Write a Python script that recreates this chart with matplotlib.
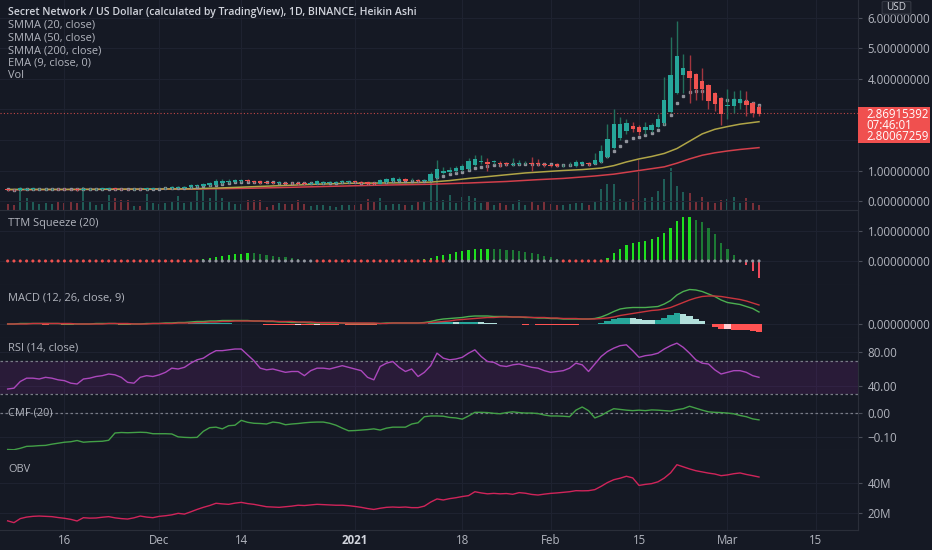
import numpy as np
import matplotlib
matplotlib.use('Agg')
import matplotlib.pyplot as plt
from matplotlib.patches import Rectangle, FancyBboxPatch

# %% data (day index counted from 2020-11-01)
days = np.arange(6, 126)

ha_open = [
    0.38, 0.37, 0.35, 0.37, 0.38, 0.38, 0.39, 0.39, 0.40, 0.40,
    0.39, 0.40, 0.37, 0.38, 0.39, 0.39, 0.40, 0.41, 0.40, 0.39,
    0.38, 0.40, 0.39, 0.40, 0.41, 0.41, 0.42, 0.43, 0.44, 0.45,
    0.48, 0.50, 0.52, 0.54, 0.58, 0.61, 0.63, 0.66, 0.68, 0.66,
    0.64, 0.62, 0.61, 0.59, 0.60, 0.59, 0.59, 0.60, 0.57, 0.57,
    0.59, 0.60, 0.60, 0.61, 0.62, 0.64, 0.63, 0.61, 0.59, 0.57,
    0.62, 0.65, 0.67, 0.71, 0.68, 0.70, 0.67, 0.67, 0.76, 0.93,
    0.96, 0.99, 1.01, 1.06, 1.18, 1.28, 1.28, 1.27, 1.26, 1.24,
    1.19, 1.22, 1.23, 1.24, 1.24, 1.22, 1.19, 1.20, 1.17, 1.17,
    1.15, 1.22, 1.25, 1.22, 1.28, 1.44, 1.74, 2.07, 2.30, 2.46,
    2.43, 2.33, 2.33, 2.43, 2.56, 2.92, 3.54, 4.13, 4.26, 4.16,
    3.93, 3.80, 3.54, 3.38, 3.12, 3.13, 3.21, 3.28, 3.21, 3.08,
]
ha_close = [
    0.36, 0.35, 0.42, 0.40, 0.41, 0.40, 0.40, 0.40, 0.39, 0.38,
    0.38, 0.35, 0.40, 0.40, 0.40, 0.41, 0.41, 0.39, 0.38, 0.38,
    0.40, 0.39, 0.41, 0.42, 0.42, 0.43, 0.45, 0.46, 0.47, 0.52,
    0.53, 0.55, 0.58, 0.65, 0.66, 0.67, 0.68, 0.68, 0.64, 0.62,
    0.60, 0.60, 0.59, 0.61, 0.57, 0.58, 0.56, 0.55, 0.59, 0.64,
    0.62, 0.61, 0.62, 0.66, 0.64, 0.61, 0.59, 0.56, 0.55, 0.68,
    0.72, 0.74, 0.71, 0.67, 0.70, 0.66, 0.69, 0.88, 1.05, 0.98,
    1.01, 1.07, 1.15, 1.30, 1.38, 1.31, 1.20, 1.30, 1.20, 1.21,
    1.22, 1.26, 1.25, 1.21, 1.21, 1.17, 1.15, 1.16, 1.19, 1.19,
    1.28, 1.27, 1.20, 1.34, 1.64, 2.03, 2.52, 2.52, 2.56, 2.37,
    2.26, 2.43, 2.50, 2.69, 3.31, 4.13, 4.75, 4.36, 4.03, 3.67,
    3.67, 3.28, 3.18, 2.85, 3.14, 3.34, 3.34, 3.15, 2.89, 2.85,
]
ha_high = [
    0.40, 0.39, 0.45, 0.42, 0.43, 0.42, 0.42, 0.42, 0.41, 0.41,
    0.40, 0.41, 0.42, 0.42, 0.42, 0.43, 0.43, 0.42, 0.41, 0.40,
    0.42, 0.42, 0.43, 0.44, 0.44, 0.45, 0.48, 0.48, 0.50, 0.55,
    0.56, 0.58, 0.62, 0.72, 0.71, 0.71, 0.72, 0.72, 0.71, 0.67,
    0.66, 0.63, 0.63, 0.65, 0.63, 0.62, 0.61, 0.62, 0.62, 0.68,
    0.65, 0.64, 0.65, 0.70, 0.67, 0.66, 0.65, 0.63, 0.61, 0.71,
    0.76, 0.80, 0.78, 0.74, 0.74, 0.72, 0.72, 0.95, 1.34, 1.12,
    1.10, 1.15, 1.22, 1.40, 1.52, 1.50, 1.40, 1.35, 1.30, 1.28,
    1.40, 1.35, 1.30, 1.45, 1.38, 1.25, 1.22, 1.24, 1.22, 1.28,
    1.34, 1.30, 1.28, 1.58, 1.85, 2.52, 3.00, 2.75, 2.70, 2.60,
    2.50, 2.60, 2.55, 2.85, 4.07, 5.38, 5.90, 4.82, 4.79, 4.20,
    4.36, 3.85, 3.56, 3.40, 3.67, 3.60, 3.65, 3.62, 3.25, 3.15,
]
ha_low = [
    0.33, 0.32, 0.33, 0.35, 0.36, 0.36, 0.37, 0.37, 0.37, 0.36,
    0.36, 0.33, 0.35, 0.36, 0.37, 0.37, 0.38, 0.37, 0.36, 0.36,
    0.36, 0.37, 0.37, 0.38, 0.39, 0.39, 0.40, 0.41, 0.42, 0.43,
    0.46, 0.48, 0.50, 0.52, 0.56, 0.59, 0.61, 0.63, 0.61, 0.59,
    0.57, 0.58, 0.56, 0.57, 0.55, 0.55, 0.53, 0.52, 0.55, 0.55,
    0.57, 0.58, 0.58, 0.59, 0.60, 0.58, 0.56, 0.53, 0.52, 0.55,
    0.60, 0.63, 0.65, 0.64, 0.66, 0.63, 0.65, 0.65, 0.74, 0.88,
    0.92, 0.95, 0.98, 1.03, 1.15, 1.20, 1.00, 1.22, 1.12, 1.15,
    1.15, 1.18, 1.20, 1.00, 1.15, 1.12, 1.10, 1.12, 1.13, 1.14,
    1.13, 1.20, 1.15, 1.20, 1.25, 1.40, 1.70, 2.00, 2.20, 2.25,
    2.15, 2.20, 2.25, 2.40, 2.50, 2.90, 3.50, 3.54, 3.20, 3.30,
    3.30, 3.00, 2.95, 2.49, 2.69, 2.90, 3.00, 2.79, 2.75, 2.80,
]
ema9 = [
    0.38, 0.37, 0.38, 0.38, 0.39, 0.39, 0.39, 0.39, 0.39, 0.39,
    0.39, 0.38, 0.38, 0.39, 0.39, 0.39, 0.40, 0.40, 0.39, 0.39,
    0.39, 0.39, 0.39, 0.40, 0.40, 0.41, 0.42, 0.43, 0.44, 0.45,
    0.47, 0.49, 0.51, 0.54, 0.57, 0.59, 0.61, 0.63, 0.63, 0.63,
    0.62, 0.62, 0.61, 0.60, 0.60, 0.59, 0.58, 0.58, 0.58, 0.59,
    0.59, 0.60, 0.60, 0.61, 0.61, 0.61, 0.60, 0.60, 0.59, 0.61,
    0.62, 0.64, 0.65, 0.65, 0.66, 0.66, 0.66, 0.70, 0.78, 0.83,
    0.87, 0.91, 0.96, 1.02, 1.09, 1.13, 1.15, 1.18, 1.19, 1.20,
    1.20, 1.21, 1.22, 1.22, 1.22, 1.21, 1.20, 1.19, 1.18, 1.18,
    1.20, 1.21, 1.21, 1.23, 1.32, 1.46, 1.64, 1.80, 1.98, 2.07,
    2.10, 2.16, 2.23, 2.33, 2.52, 2.82, 3.21, 3.44, 3.57, 3.60,
    3.62, 3.55, 3.45, 3.35, 3.31, 3.30, 3.29, 3.28, 3.22, 3.15,
]
smma20_days = [6, 15, 25, 35, 40, 45, 50, 55, 60, 65, 70, 73, 76, 79, 82, 85, 88,
               91, 94, 97, 100, 102, 104, 106, 108, 110, 112, 114, 116, 118, 120, 122, 125]
smma20 = [0.38, 0.38, 0.39, 0.40, 0.43, 0.47, 0.51, 0.55, 0.58, 0.59, 0.60, 0.62, 0.67,
          0.74, 0.80, 0.86, 0.92, 0.96, 1.00, 1.03, 1.08, 1.16, 1.28, 1.38, 1.46, 1.56,
          1.72, 1.96, 2.20, 2.35, 2.44, 2.52, 2.60]
smma50_days = [6, 20, 35, 45, 55, 65, 73, 79, 85, 90, 94, 99, 102, 104, 106, 108, 110,
               112, 114, 116, 118, 120, 122, 125]
smma50 = [0.37, 0.38, 0.39, 0.42, 0.47, 0.52, 0.55, 0.59, 0.64, 0.70, 0.74, 0.82, 0.88,
          0.94, 1.00, 1.06, 1.12, 1.24, 1.38, 1.50, 1.58, 1.64, 1.69, 1.75]
volume = [  # x100k
    6, 5, 22, 12, 8, 6, 7, 6, 8, 7,
    8, 7, 23, 8, 5, 6, 15, 12, 10, 10,
    4, 4, 16, 7, 6, 7, 8, 14, 7, 8,
    19, 20, 12, 21, 12, 9, 6, 6, 10, 10,
    10, 3, 5, 7, 6, 6, 10, 6, 4, 5,
    5, 4, 3, 5, 5, 5, 6, 11, 8, 12,
    5, 6, 6, 5, 5, 8, 9, 30, 40, 10,
    15, 7, 13, 14, 12, 7, 8, 5, 7, 5,
    6, 10, 5, 9, 5, 9, 6, 5, 5, 6,
    7, 7, 5, 9, 21, 26, 26, 11, 9, 11,
    50, 12, 13, 19, 31, 42, 24, 18, 17, 9,
    13, 9, 7, 10, 11, 13, 7, 12, 7, 5,
]
ttm = [
    0, 0, 0, 0, 0, 0, 0, 0, 0, 0,
    0, 0, 0, 0, 0, 0, 0, 0, 0, 0,
    0, 0, 0, 0, 0, 0, 0, 0, 0, 0,
    0.03, 0.06, 0.10, 0.13, 0.17, 0.20, 0.22, 0.25, 0.27, 0.26,
    0.22, 0.20, 0.17, 0.14, 0.12, 0.10, 0.07, 0.05, 0.03, 0,
    0, 0, 0, 0, 0, 0, 0, 0, 0, 0,
    0, 0, 0, 0, 0.03, 0.05, 0.07, 0.11, 0.16, 0.20,
    0.24, 0.30, 0.35, 0.38, 0.40, 0.41, 0.41, 0.40, 0.39, 0.38,
    0.36, 0.33, 0.30, 0.27, 0.22, 0.17, 0.12, 0.08, 0.04, 0,
    0, 0, 0, 0, 0, 0.11, 0.26, 0.39, 0.52, 0.59,
    0.62, 0.68, 0.72, 0.81, 0.92, 1.11, 1.34, 1.46, 1.47, 1.37,
    1.29, 1.10, 0.89, 0.60, 0.39, 0.20, 0.02, -0.13, -0.33, -0.56,
]
squeeze_on = [(6, 36), (55, 75), (94, 101)]
macd_line = [
    0.00, 0.00, 0.01, 0.01, 0.01, 0.01, 0.01, 0.01, 0.01, 0.00,
    0.00, 0.00, 0.00, 0.00, 0.01, 0.01, 0.01, 0.01, 0.00, 0.00,
    0.00, 0.00, 0.01, 0.01, 0.01, 0.02, 0.02, 0.03, 0.03, 0.04,
    0.05, 0.05, 0.06, 0.06, 0.07, 0.07, 0.07, 0.07, 0.07, 0.06,
    0.06, 0.05, 0.05, 0.04, 0.04, 0.03, 0.03, 0.03, 0.02, 0.02,
    0.02, 0.02, 0.02, 0.02, 0.01, 0.01, 0.01, 0.01, 0.01, 0.01,
    0.02, 0.02, 0.02, 0.02, 0.02, 0.02, 0.03, 0.05, 0.08, 0.10,
    0.11, 0.12, 0.13, 0.15, 0.16, 0.16, 0.16, 0.15, 0.15, 0.15,
    0.14, 0.14, 0.13, 0.13, 0.12, 0.12, 0.11, 0.11, 0.10, 0.10,
    0.10, 0.10, 0.10, 0.11, 0.14, 0.19, 0.25, 0.30, 0.32, 0.33,
    0.33, 0.33, 0.34, 0.35, 0.40, 0.47, 0.58, 0.65, 0.69, 0.68,
    0.65, 0.60, 0.55, 0.48, 0.43, 0.41, 0.39, 0.35, 0.31, 0.24,
]
signal_line = [
    0.00, 0.00, 0.00, 0.00, 0.01, 0.01, 0.01, 0.01, 0.01, 0.01,
    0.01, 0.00, 0.00, 0.00, 0.00, 0.00, 0.01, 0.01, 0.01, 0.01,
    0.00, 0.00, 0.00, 0.01, 0.01, 0.01, 0.01, 0.02, 0.02, 0.02,
    0.03, 0.03, 0.04, 0.04, 0.05, 0.05, 0.06, 0.06, 0.06, 0.06,
    0.06, 0.06, 0.06, 0.05, 0.05, 0.05, 0.04, 0.04, 0.04, 0.03,
    0.03, 0.03, 0.03, 0.02, 0.02, 0.02, 0.02, 0.02, 0.02, 0.01,
    0.01, 0.02, 0.02, 0.02, 0.02, 0.02, 0.02, 0.03, 0.04, 0.05,
    0.06, 0.08, 0.09, 0.10, 0.11, 0.12, 0.13, 0.13, 0.14, 0.14,
    0.14, 0.14, 0.14, 0.13, 0.13, 0.13, 0.12, 0.12, 0.11, 0.11,
    0.11, 0.10, 0.10, 0.10, 0.11, 0.12, 0.14, 0.17, 0.19, 0.21,
    0.23, 0.25, 0.27, 0.28, 0.30, 0.33, 0.38, 0.43, 0.48, 0.52,
    0.55, 0.56, 0.56, 0.55, 0.53, 0.51, 0.49, 0.46, 0.42, 0.38,
]
macd_hist = [
    0.00, 0.00, 0.01, 0.01, 0.00, 0.00, -0.01, 0.00, 0.00, -0.01,
    -0.01, 0.00, 0.00, 0.00, 0.01, 0.01, 0.00, 0.00, -0.01, -0.01,
    0.00, 0.00, 0.01, 0.00, 0.00, 0.01, 0.01, 0.01, 0.01, 0.02,
    0.02, 0.02, 0.02, 0.02, 0.02, 0.02, 0.01, 0.01, 0.01, 0.00,
    0.00, -0.01, -0.01, -0.01, -0.01, -0.02, -0.01, -0.01, -0.02, -0.01,
    -0.01, -0.01, -0.01, 0.00, -0.01, -0.01, -0.01, -0.01, -0.01, 0.00,
    0.01, 0.00, 0.00, 0.00, 0.00, 0.00, 0.01, 0.02, 0.04, 0.05,
    0.05, 0.04, 0.04, 0.05, 0.05, 0.04, 0.03, 0.02, 0.01, 0.01,
    0.00, 0.00, -0.01, 0.00, -0.01, -0.01, -0.01, -0.01, -0.01, -0.01,
    -0.01, 0.00, 0.00, 0.01, 0.03, 0.07, 0.11, 0.13, 0.13, 0.12,
    0.10, 0.09, 0.08, 0.09, 0.13, 0.18, 0.22, 0.21, 0.16, 0.11,
    0.06, 0.00, -0.06, -0.10, -0.09, -0.11, -0.11, -0.12, -0.14, -0.16,
]
rsi = [
    36, 37, 45, 49, 49, 48, 50, 49, 47, 46,
    43, 42, 48, 49, 51, 52, 54, 53, 50, 44,
    43, 50, 52, 51, 53, 56, 61, 60, 62, 67,
    71, 73, 78, 82, 82, 83, 84, 84, 77, 70,
    61, 59, 60, 58, 56, 57, 57, 52, 58, 61,
    61, 60, 62, 64, 62, 60, 58, 50, 47, 63,
    67, 69, 62, 57, 60, 51, 56, 64, 79, 73,
    71, 72, 74, 79, 83, 75, 69, 68, 64, 63,
    65, 66, 64, 62, 61, 58, 56, 57, 58, 61,
    67, 65, 57, 66, 75, 81, 85, 88, 89, 82,
    74, 76, 77, 79, 84, 88, 91, 86, 79, 71,
    67, 66, 59, 54, 56, 58, 58, 56, 52, 50,
]
cmf = [
    -0.150, -0.151, -0.145, -0.137, -0.136, -0.134, -0.133, -0.128, -0.124, -0.120,
    -0.118, -0.113, -0.120, -0.118, -0.117, -0.116, -0.112, -0.082, -0.080, -0.081,
    -0.080, -0.079, -0.080, -0.085, -0.085, -0.085, -0.086, -0.098, -0.100, -0.101,
    -0.100, -0.075, -0.060, -0.058, -0.065, -0.052, -0.050, -0.030, -0.038, -0.042,
    -0.043, -0.045, -0.037, -0.040, -0.048, -0.045, -0.043, -0.040, -0.038, -0.037,
    -0.037, -0.042, -0.050, -0.062, -0.073, -0.072, -0.070, -0.068, -0.065, -0.070,
    -0.062, -0.058, -0.058, -0.058, -0.045, -0.040, -0.015, -0.012, -0.012, -0.013,
    -0.018, -0.020, -0.025, -0.012, 0.003, 0.003, 0.002, -0.001, -0.003, 0.002,
    0.005, 0.002, 0.000, 0.000, -0.002, -0.008, -0.012, -0.012, -0.013, -0.015,
    0.012, 0.025, 0.010, -0.020, -0.010, 0.005, 0.018, 0.015, 0.012, 0.010,
    0.012, 0.010, 0.013, 0.012, 0.010, 0.008, 0.014, 0.018, 0.028, 0.020,
    0.012, 0.005, 0.003, 0.002, 0.000, -0.003, -0.010, -0.015, -0.024, -0.028,
]
obv = [  # millions
    15.0, 13.8, 16.5, 17.5, 18.0, 18.2, 18.0, 17.8, 17.2, 16.7,
    16.0, 14.9, 17.1, 16.8, 16.9, 17.4, 17.8, 17.0, 16.5, 16.2,
    17.0, 18.2, 17.5, 17.1, 18.0, 18.4, 19.0, 20.0, 19.5, 21.0,
    22.6, 24.0, 25.2, 26.7, 26.3, 26.0, 26.8, 27.3, 26.5, 26.0,
    25.2, 24.4, 24.2, 24.0, 24.4, 24.8, 25.4, 25.2, 25.6, 26.0,
    25.8, 25.6, 25.4, 25.4, 25.1, 24.6, 24.0, 23.2, 22.6, 23.4,
    24.0, 24.2, 24.0, 24.2, 23.8, 23.8, 24.8, 27.5, 29.6, 28.9,
    29.8, 30.4, 31.2, 31.8, 34.4, 33.6, 33.0, 33.3, 33.0, 33.2,
    32.7, 33.8, 33.4, 32.6, 32.2, 32.8, 33.3, 33.6, 34.0, 34.4,
    35.1, 35.0, 35.1, 35.8, 38.0, 40.5, 42.4, 43.4, 44.7, 43.6,
    38.6, 39.3, 39.8, 41.0, 43.5, 47.0, 52.4, 51.0, 49.6, 48.4,
    47.6, 46.8, 46.2, 45.1, 45.6, 46.4, 46.9, 45.9, 45.1, 44.2,
]
last_price = 2.86915392
price_ticks = [0, 1, 4, 5, 6]  # 2 and 3 sit under the price label
tick_days = [15, 30, 43, 61, 78, 92, 106, 120, 134]
tick_labels = ['16', 'Dec', '14', '2021', '18', 'Feb', '15', 'Mar', '15']

# %% style
BG = '#151924'
GRID = '#1e2230'
SEP = '#2a2e39'
TXT = '#b2b5be'
UP = '#26a69a'
DOWN = '#ef5350'
plt.rcParams['font.family'] = ['Open Sans', 'DejaVu Sans']

W, H = 932, 550
PLOT_W = 858
XMIN, XMAX = 4.79, 140.68

fig = plt.figure(figsize=(W / 100, H / 100), dpi=100, facecolor=BG)


def pane(top, bottom, ylim, yticks, ylabels):
    ax = fig.add_axes([0, 1 - bottom / H, PLOT_W / W, (bottom - top) / H])
    ax.set_facecolor(BG)
    ax.set_xlim(XMIN, XMAX)
    ax.set_ylim(*ylim)
    for s in ['top', 'left']:
        ax.spines[s].set_visible(False)
    ax.spines['bottom'].set_color(SEP)
    ax.spines['right'].set_color(SEP)
    ax.yaxis.tick_right()
    ax.set_yticks(yticks)
    ax.set_yticklabels(ylabels)
    ax.tick_params(axis='y', colors='#4a4e59', labelcolor=TXT, labelsize=8.3, length=3, pad=4)
    ax.set_xticks(tick_days)
    ax.tick_params(axis='x', length=0, labelbottom=False)
    ax.grid(True, color=GRID, lw=0.8)
    ax.set_axisbelow(True)
    return ax


def px_text(x, y, s, **kw):
    return fig.text(x / W, 1 - y / H, s, va='center', **kw)


o = np.array(ha_open)
c = np.array(ha_close)
up = c >= o

# main pane
ax = pane(0, 210, (-0.295, 6.59), price_ticks, [f'{v:.8f}' for v in price_ticks])
for lvl in (2, 3):
    ax.axhline(lvl, color=GRID, lw=0.8, zorder=0)
ax_vol = fig.add_axes(ax.get_position(), label='vol')
ax_vol.set_xlim(XMIN, XMAX)
ax_vol.set_ylim(0, 210)
ax_vol.axis('off')
ax_vol.bar(days, volume, width=0.32, color=np.where(up, '#1f5d57', '#7a3039'), linewidth=0)
ax_vol.set_zorder(0)
ax.set_zorder(1)
ax.patch.set_visible(False)

ax.plot(smma50_days, smma50, color='#d23f4b', lw=1.1, zorder=2)
ax.plot(smma20_days, smma20, color='#b0a547', lw=1.1, zorder=2)
ax.plot(days, ema9, ls='none', marker='s', ms=1.7, color='#8f929b', zorder=2)
ax.vlines(days, ha_low, ha_high, colors=np.where(up, '#23705c', '#a3363f'), lw=1, zorder=3)
ax.bar(days, np.maximum(np.abs(c - o), 0.015), bottom=np.minimum(o, c), width=0.7,
       color=np.where(up, UP, DOWN), linewidth=0, zorder=4)
ax.axhline(last_price, color=DOWN, ls=(0, (1, 2)), lw=0.8, alpha=0.8, zorder=1)

# TTM squeeze
ax2 = pane(210, 285, (-0.8, 1.7), [0, 1], ['0.00000000', '1.00000000'])
t = np.array(ttm)
tp = np.concatenate([[0], t[:-1]])
tcol = np.where(t >= 0, np.where(t >= tp, '#1fe01f', '#1d7a35'), np.where(t <= tp, '#ee4a5c', '#8a2a35'))
ax2.bar(days, t, width=0.35, color=tcol, linewidth=0)
sq = np.zeros(len(days), bool)
for a, b in squeeze_on:
    sq |= (days >= a) & (days <= b)
ax2.scatter(days, np.zeros(len(days)), s=5, c=np.where(sq, DOWN, '#9598a1'), linewidths=0, zorder=3)

# MACD
ax3 = pane(285, 338, (-0.28, 0.78), [0], ['0.00000000'])
h = np.array(macd_hist)
hp = np.concatenate([[0], h[:-1]])
hcol = np.where(h >= 0, np.where(h >= hp, '#26a69a', '#b2dfdb'), np.where(h <= hp, '#ff5252', '#ffcdd2'))
ax3.bar(days, h, width=1.0, color=hcol, linewidth=0)
ax3.plot(days, macd_line, color='#4caf50', lw=1)
ax3.plot(days, signal_line, color='#c9353d', lw=1)

# RSI
ax4 = pane(338, 398, (25.2, 97.2), [40, 80], ['40.00', '80.00'])
ax4.axhspan(30, 70, color='#9c27b0', alpha=0.15, lw=0)
for lvl in (30, 70):
    ax4.axhline(lvl, color='#787b86', ls=(0, (2, 2)), lw=0.9)
ax4.plot(days, rsi, color='#ab47bc', lw=1)

# CMF
ax5 = pane(398, 450, (-0.152, 0.062), [-0.1, 0], ['\u22120.10', '0.00'])
ax5.axhline(0, color='#787b86', ls=(0, (2, 2)), lw=0.9)
ax5.plot(days, cmf, color='#43a047', lw=1)

# OBV
ax6 = pane(450, 530, (8.9, 62.2), [20, 40], ['20M', '40M'])
ax6.plot(days, obv, color='#d0245a', lw=1)
ax6.tick_params(axis='x', labelbottom=True, labelcolor=TXT, labelsize=8.3, pad=3)
ax6.set_xticklabels(tick_labels)
for lbl in ax6.get_xticklabels():
    if lbl.get_text() == '2021':
        lbl.set_fontweight('bold')
        lbl.set_color('#d1d4dc')

# legends / pane titles
px_text(8, 12.7, 'Secret Network / US Dollar (calculated by TradingView), 1D, BINANCE, Heikin Ashi',
        color='#d1d4dc', fontsize=7.6, fontweight='semibold')
for y, s in [(25, 'SMMA (20, close)'), (37.7, 'SMMA (50, close)'), (50.7, 'SMMA (200, close)'),
             (63.3, 'EMA (9, close, 0)'), (76, 'Vol'),
             (223, 'TTM Squeeze (20)'), (297.5, 'MACD (12, 26, close, 9)'),
             (348, 'RSI (14, close)'), (413, 'CMF (20)'), (470, 'OBV')]:
    px_text(8, y, s, color=TXT, fontsize=7.9)

# price label and currency badge
fig.add_artist(Rectangle((858 / W, 1 - 143 / H), 72 / W, 36 / H, transform=fig.transFigure,
                         facecolor='#f0504f', edgecolor='none', zorder=10))
for y, s in [(114, '2.86915392'), (125.5, '07:46:01'), (137, '2.80067259')]:
    px_text(866, y, s, color='#ffffff', fontsize=8.3, zorder=11)
fig.add_artist(FancyBboxPatch((884 / W, 1 - 13 / H), 25 / W, 10.5 / H, transform=fig.transFigure,
                              boxstyle='round,pad=0.002', facecolor='#1e222d', edgecolor='#363a45',
                              lw=0.8, zorder=10))
px_text(896.5, 7.9, 'USD', color='#d1d4dc', fontsize=7.2, ha='center', zorder=11)

fig.savefig('out.png', dpi=100, facecolor=BG)
